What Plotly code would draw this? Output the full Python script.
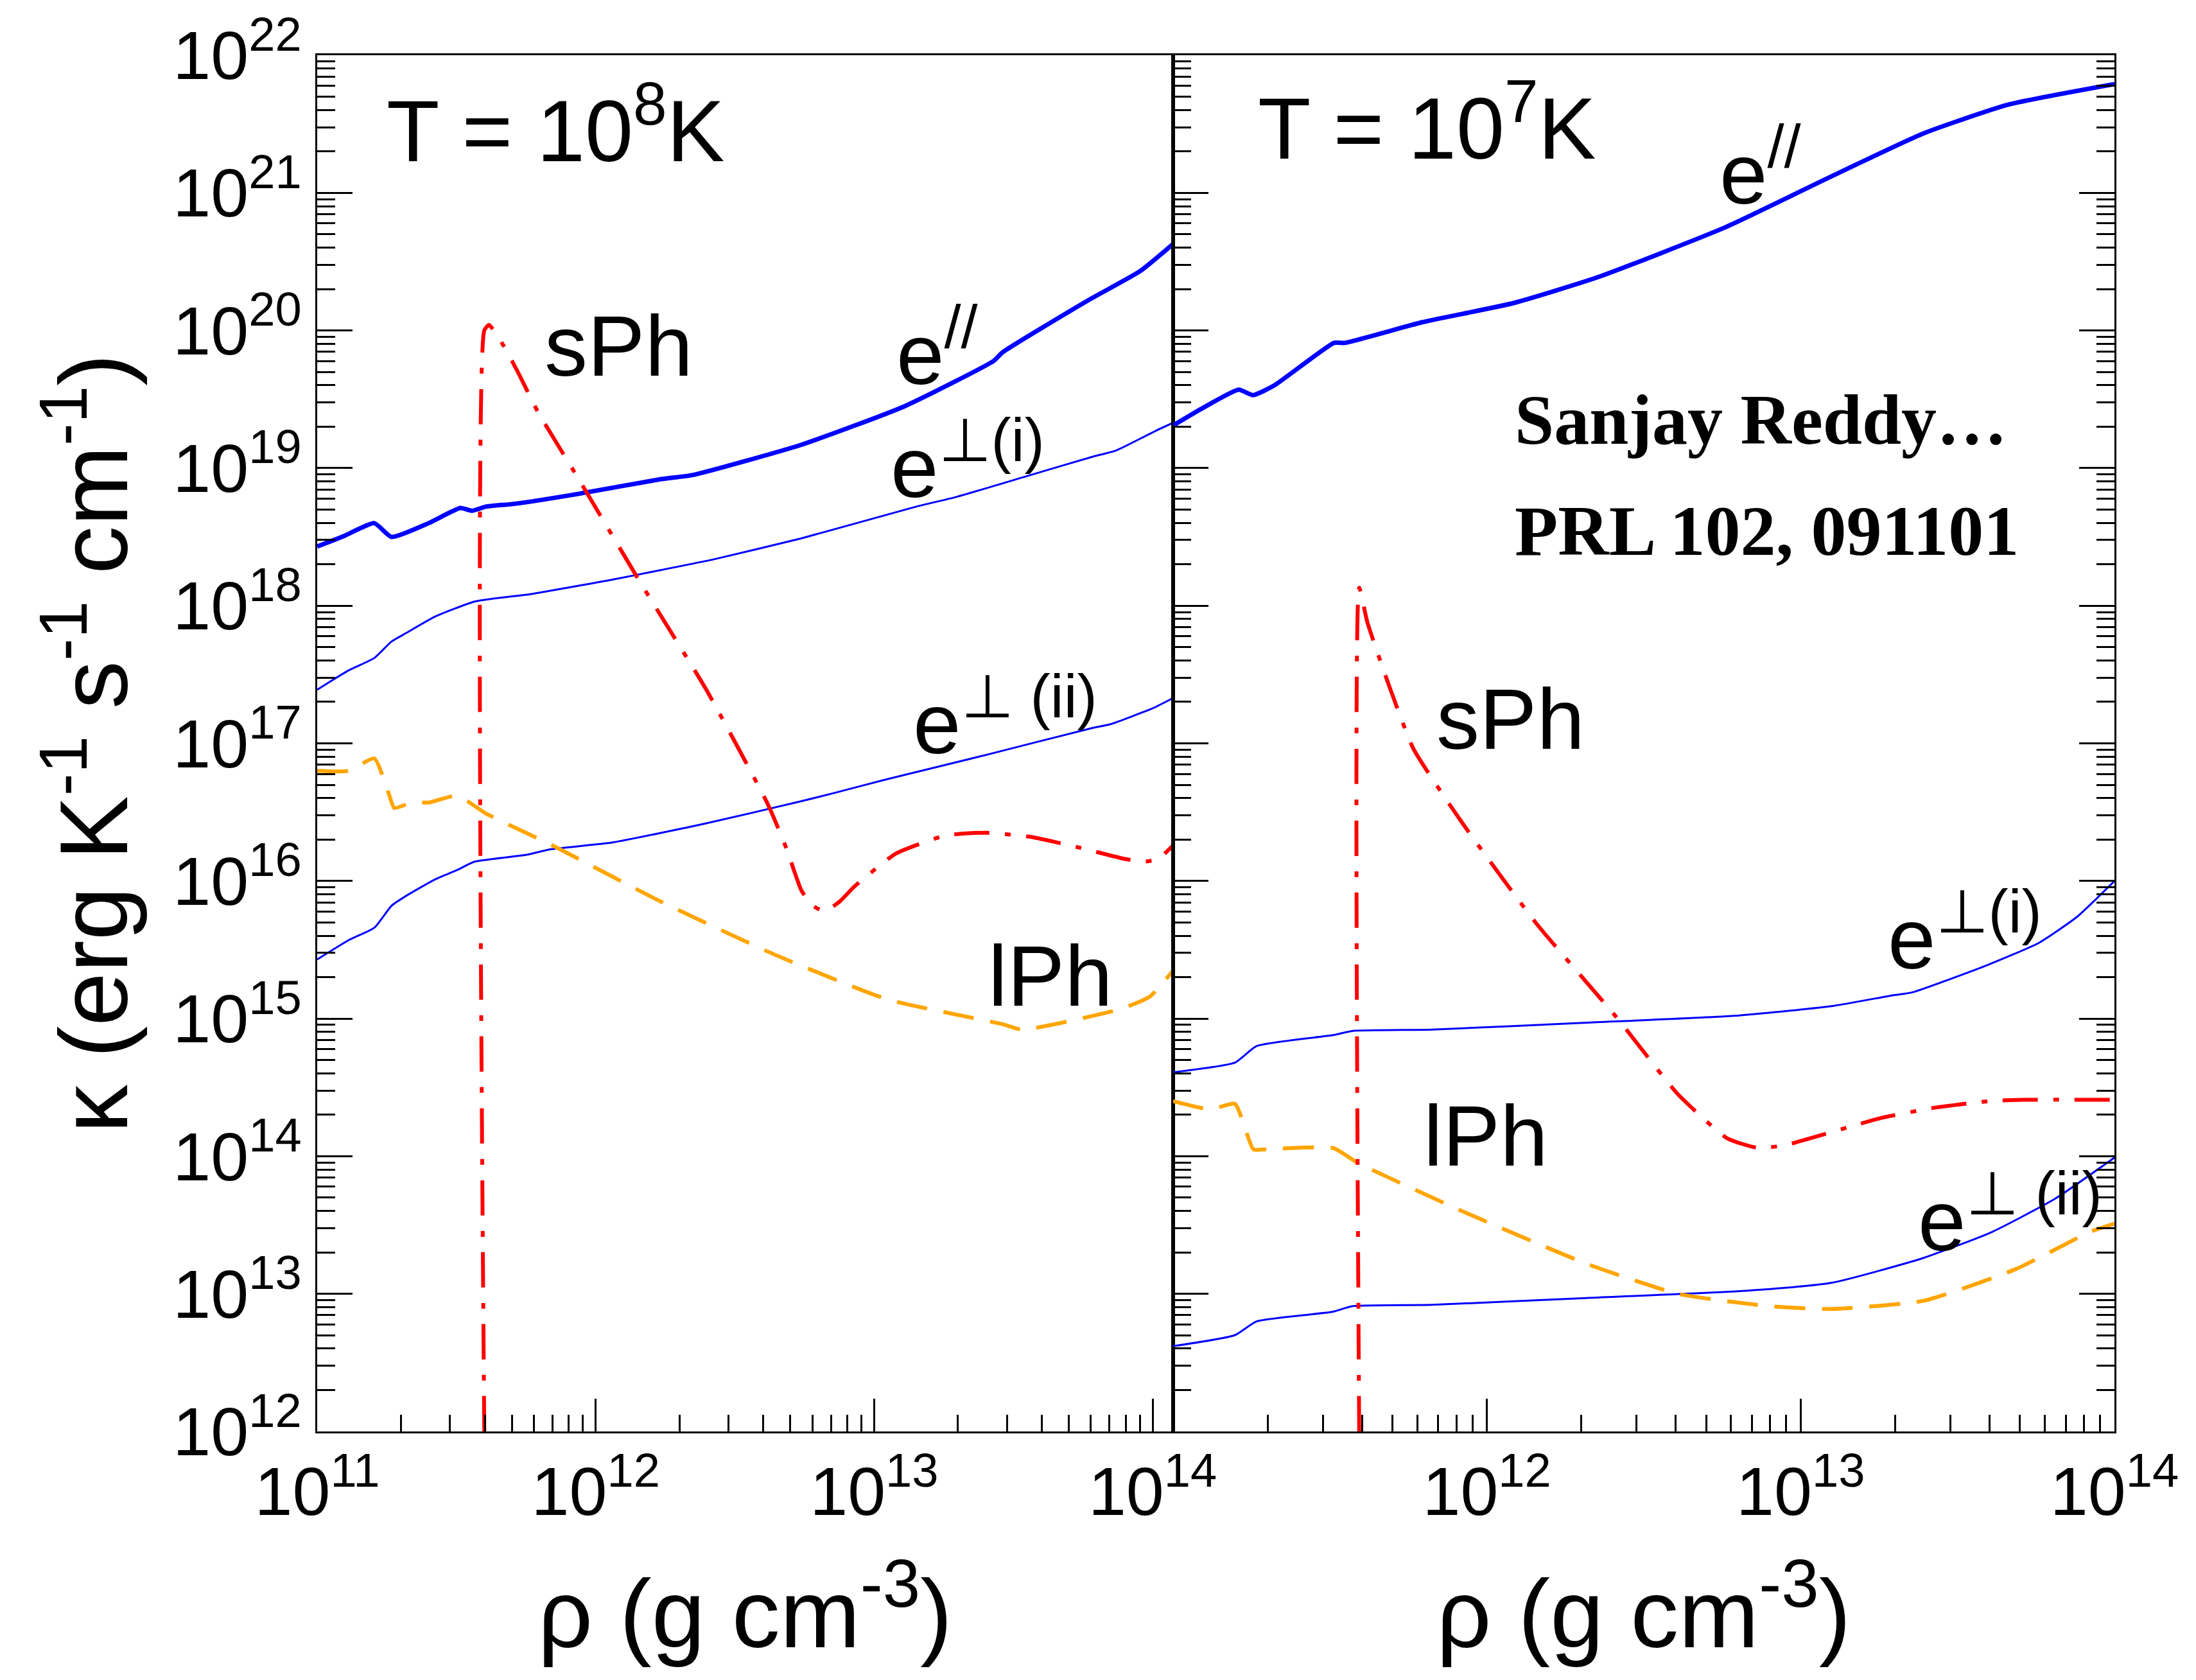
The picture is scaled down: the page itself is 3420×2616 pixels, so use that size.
import plotly.graph_objects as go

# ---------------- data (log10 rho [g cm^-3], log10 kappa) ----------------
# Left panel: T = 1e8 K
L_rho_epar = [11.00, 11.10, 11.205, 11.267, 11.40, 11.514, 11.556, 11.606, 11.706, 11.93, 12.235, 12.349, 12.739, 13.11, 13.43, 13.46, 13.769, 13.954, 14.074]
L_k_epar = [18.43, 18.51, 18.60, 18.50, 18.60, 18.71, 18.69, 18.72, 18.74, 18.81, 18.92, 18.95, 19.17, 19.45, 19.78, 19.84, 20.22, 20.43, 20.63]

L_rho_ep1 = [11.00, 11.113, 11.205, 11.267, 11.318, 11.422, 11.565, 11.706, 11.752, 12.061, 12.236, 12.43, 12.739, 13.151, 13.294, 13.562, 13.78, 13.871, 14.01, 14.074]
L_k_ep1 = [17.39, 17.53, 17.62, 17.74, 17.80, 17.92, 18.03, 18.07, 18.08, 18.19, 18.26, 18.34, 18.49, 18.72, 18.79, 18.95, 19.08, 19.13, 19.27, 19.33]

L_rho_ep2 = [11.00, 11.113, 11.205, 11.267, 11.318, 11.422, 11.503, 11.565, 11.752, 11.837, 12.061, 12.40, 12.739, 12.858, 13.047, 13.41, 13.78, 13.85, 14.006, 14.074]
L_k_ep2 = [15.43, 15.57, 15.66, 15.82, 15.89, 16.01, 16.08, 16.14, 16.19, 16.23, 16.28, 16.42, 16.58, 16.64, 16.74, 16.92, 17.11, 17.14, 17.26, 17.33]

L_rho_lph = [11.00, 11.113, 11.205, 11.256, 11.277, 11.339, 11.401, 11.503, 11.606, 11.853, 12.224, 12.637, 13.047, 13.46, 13.532, 13.885, 13.99, 14.074]
L_k_lph = [16.80, 16.80, 16.89, 16.64, 16.53, 16.57, 16.57, 16.62, 16.49, 16.25, 15.86, 15.47, 15.14, 14.96, 14.92, 15.07, 15.16, 15.35]

L_rho_sph = [11.600, 11.600, 11.617, 11.669, 11.72, 11.792, 11.93, 12.16, 12.40, 12.62, 12.686, 12.739, 12.78, 12.822, 12.876, 12.929, 13.079, 13.255, 13.405, 13.564, 13.742, 13.90, 13.97, 14.02, 14.074]
L_k_sph = [12.00, 20.00, 20.04, 19.89, 19.70, 19.41, 18.95, 18.17, 17.38, 16.55, 16.23, 15.93, 15.82, 15.78, 15.85, 15.96, 16.20, 16.33, 16.35, 16.32, 16.24, 16.16, 16.14, 16.16, 16.26]

# Right panel: T = 1e7 K
R_rho_epar = [11.00, 11.097, 11.209, 11.254, 11.322, 11.513, 11.547, 11.794, 12.086, 12.357, 12.76, 13.098, 13.389, 13.66, 14.00]
R_k_epar = [19.31, 19.44, 19.57, 19.53, 19.60, 19.91, 19.91, 20.06, 20.20, 20.39, 20.75, 21.12, 21.43, 21.64, 21.79]

R_rho_ep1 = [11.00, 11.197, 11.266, 11.51, 11.57, 11.825, 12.316, 12.787, 13.098, 13.295, 13.355, 13.596, 13.759, 13.881, 14.00]
R_k_ep1 = [14.61, 14.68, 14.80, 14.88, 14.91, 14.92, 14.97, 15.02, 15.09, 15.17, 15.19, 15.39, 15.55, 15.74, 16.00]

R_rho_ep2 = [11.00, 11.197, 11.266, 11.51, 11.57, 11.825, 12.316, 12.805, 13.098, 13.39, 13.61, 13.81, 14.00]
R_k_ep2 = [12.62, 12.70, 12.80, 12.87, 12.91, 12.92, 12.97, 13.02, 13.08, 13.26, 13.45, 13.69, 13.99]

R_rho_lph = [11.00, 11.119, 11.197, 11.256, 11.295, 11.51, 11.59, 11.922, 12.316, 12.609, 12.904, 13.098, 13.393, 13.686, 13.922, 14.00]
R_k_lph = [14.40, 14.34, 14.38, 14.05, 14.05, 14.06, 13.95, 13.60, 13.22, 13.00, 12.91, 12.89, 12.95, 13.18, 13.45, 13.51]

R_rho_sph = [11.593, 11.593, 11.619, 11.688, 11.766, 11.922, 12.158, 12.413, 12.609, 12.766, 12.864, 12.949, 13.15, 13.26, 13.42, 13.60, 13.71, 14.00]
R_k_sph = [12.00, 18.13, 17.88, 17.42, 16.96, 16.42, 15.69, 15.01, 14.45, 14.13, 14.06, 14.08, 14.21, 14.28, 14.35, 14.40, 14.41, 14.41]

# tick labels
y_decades = list(range(12, 23))
y_ticktext = ["10<sup>%d</sup>" % e for e in y_decades]
xL_decades = [11, 12, 13, 14]
xR_decades = [12, 13, 14]

# text labels: (panel, text, log10 rho at left edge, log10 kappa at bottom, size)
labels = [
    ("L", "T = 10<sup>8</sup>K", 11.244, 21.084, 135),
    ("R", "T = 10<sup>7</sup>K", 11.266, 21.102, 135),
    ("L", "sPh", 11.812, 19.530, 134),
    ("L", "e<sup>//</sup>", 13.075, 19.470, 134),
    ("L", "e<sup>\u22a5(i)</sup>", 13.054, 18.651, 134),
    ("L", "e<sup>\u22a5 (ii)</sup>", 13.135, 16.786, 134),
    ("L", "lPh", 13.405, 14.953, 134),
    ("R", "e<sup>//</sup>", 12.738, 20.781, 134),
    ("R", "sPh", 11.834, 16.819, 134),
    ("R", "e<sup>\u22a5(i)</sup>", 13.273, 15.223, 134),
    ("R", "lPh", 11.795, 13.791, 134),
    ("R", "e<sup>\u22a5 (ii)</sup>", 13.369, 13.177, 134),
]
credit = [
    ("<b>Sanjay Reddy\u2026</b>", 12.084, 19.056),
    ("<b>PRL 102, 091101</b>", 12.084, 18.247),
]

# ---------------- figure ----------------
BLUE = "#0000ff"
RED = "#ff0000"
ORANGE = "#ffa500"
SANS = "Liberation Sans, Arial, Helvetica, sans-serif"


def p10(a):
    return [10.0 ** v for v in a]


fig = go.Figure()

series = [
    ("x", "y", L_rho_epar, L_k_epar, BLUE, 7, "solid"),
    ("x", "y", L_rho_ep1, L_k_ep1, BLUE, 3, "solid"),
    ("x", "y", L_rho_ep2, L_k_ep2, BLUE, 3, "solid"),
    ("x", "y", L_rho_lph, L_k_lph, ORANGE, 6, "48px,26px"),
    ("x", "y", L_rho_sph, L_k_sph, RED, 6, "55px,24px,9px,24px"),
    ("x2", "y2", R_rho_epar, R_k_epar, BLUE, 7, "solid"),
    ("x2", "y2", R_rho_ep1, R_k_ep1, BLUE, 3, "solid"),
    ("x2", "y2", R_rho_ep2, R_k_ep2, BLUE, 3, "solid"),
    ("x2", "y2", R_rho_lph, R_k_lph, ORANGE, 6, "48px,26px"),
    ("x2", "y2", R_rho_sph, R_k_sph, RED, 6, "55px,24px,9px,24px"),
]
for xa, ya, xs, ys, col, w, dash in series:
    fig.add_trace(go.Scatter(x=p10(xs), y=p10(ys), xaxis=xa, yaxis=ya, mode="lines",
                             line=dict(color=col, width=w, dash=dash, shape="spline", smoothing=0.5),
                             showlegend=False, hoverinfo="skip"))

minor_y = [m * 10.0 ** e for e in range(12, 22) for m in range(2, 10)]
minor_x = [m * 10.0 ** e for e in range(11, 14) for m in range(2, 10)]

tickfont = dict(family=SANS, size=106, color="black")
common = dict(showgrid=False, zeroline=False, showline=True, linecolor="black", linewidth=3,
              ticks="inside", tickwidth=3, tickcolor="black")

yax = dict(type="log", range=[12, 22], tickmode="array", tickvals=[10.0 ** e for e in y_decades],
           ticktext=y_ticktext, ticklen=55, tickfont=tickfont,
           minor=dict(ticks="inside", ticklen=28, tickwidth=3, tickcolor="black",
                      tickmode="array", tickvals=minor_y, showgrid=False), **common)

xaxL = dict(type="log", range=[11, 14.0735], domain=[0, 0.47624], anchor="y",
            tickmode="array", tickvals=[10.0 ** e for e in xL_decades],
            ticktext=["10<sup>%d</sup>" % e for e in xL_decades], ticklen=51, tickfont=tickfont,
            mirror=True,
            minor=dict(ticks="inside", ticklen=26, tickwidth=3, tickcolor="black",
                       tickmode="array", tickvals=minor_x, showgrid=False),
            title=dict(text="\u03c1 (g cm<sup>-3</sup>)", font=dict(family=SANS, size=150, color="black"),
                       standoff=80), **common)
xaxR = dict(xaxL)
xaxR.update(range=[11, 14], domain=[0.47624, 1], anchor="y2",
            tickvals=[10.0 ** e for e in xR_decades],
            ticktext=["10<sup>%d</sup>" % e for e in xR_decades])

yaxL = dict(yax)
yaxL.update(anchor="x", mirror=True,
            title=dict(text="\u03ba (erg K<sup>-1</sup> s<sup>-1</sup> cm<sup>-1</sup>)",
                       font=dict(family=SANS, size=150, color="black"), standoff=20))
yaxR = dict(yax)
yaxR.update(anchor="x2", mirror="ticks", showticklabels=False)

annotations = []
for panel, txt, xr, yk, sz in labels:
    annotations.append(dict(text=txt, x=xr, y=yk, xref="x" if panel == "L" else "x2",
                            yref="y" if panel == "L" else "y2", xanchor="left", yanchor="bottom",
                            showarrow=False, font=dict(family=SANS, size=sz, color="black")))
for txt, xr, yk in credit:
    annotations.append(dict(text=txt, x=xr, y=yk, xref="x2", yref="y2", xanchor="left",
                            yanchor="bottom", showarrow=False,
                            font=dict(family="Liberation Serif, Times New Roman, serif", size=110,
                                      color="black")))

fig.update_layout(
    width=3420, height=2616,
    margin=dict(l=494, r=127, t=80, b=387, pad=0),
    paper_bgcolor="white", plot_bgcolor="white",
    xaxis=xaxL, xaxis2=xaxR, yaxis=yaxL, yaxis2=yaxR,
    annotations=annotations, showlegend=False,
)

fig.write_html("out.html")
